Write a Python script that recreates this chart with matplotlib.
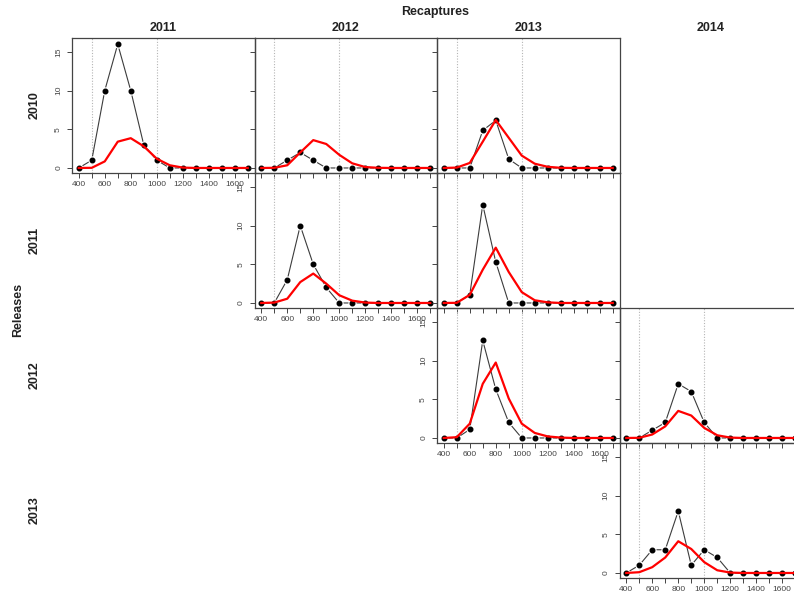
import matplotlib
matplotlib.use('Agg')
import matplotlib.pyplot as plt

plt.rcParams['font.family'] = ['Liberation Sans', 'DejaVu Sans']

release_years = [2010, 2011, 2012, 2013]
recapture_years = [2011, 2012, 2013, 2014]
lengths = [400, 500, 600, 700, 800, 900, 1000, 1100, 1200, 1300, 1400, 1500, 1600, 1700]
x_labels = ['400', '', '600', '', '800', '', '1000', '', '1200', '', '1400', '', '1600', '']
y_ticks = [0, 5, 10, 15]
ref_lines = [500, 1000]

obs_2010_2011 = [0, 1, 10, 16, 10, 3, 1, 0, 0, 0, 0, 0, 0, 0]
pred_2010_2011 = [0, 0.02, 0.85, 3.4, 3.85, 2.8, 1.2, 0.35, 0.05, 0, 0, 0, 0, 0]
obs_2010_2012 = [0, 0, 1, 2, 1, 0, 0, 0, 0, 0, 0, 0, 0, 0]
pred_2010_2012 = [0, 0.02, 0.35, 2.0, 3.6, 3.1, 1.7, 0.6, 0.12, 0.02, 0, 0, 0, 0]
obs_2010_2013 = [0, 0, 0, 4.85, 6.15, 1.15, 0, 0, 0, 0, 0, 0, 0, 0]
pred_2010_2013 = [0, 0.05, 0.65, 3.4, 6.2, 3.9, 1.6, 0.55, 0.15, 0.02, 0, 0, 0, 0]
obs_2011_2012 = [0, 0, 3, 10, 5, 2, 0, 0, 0, 0, 0, 0, 0, 0]
pred_2011_2012 = [0, 0.05, 0.55, 2.7, 3.8, 2.5, 1.0, 0.3, 0.05, 0, 0, 0, 0, 0]
obs_2011_2013 = [0, 0, 1.05, 12.7, 5.3, 0, 0, 0, 0, 0, 0, 0, 0, 0]
pred_2011_2013 = [0, 0.02, 1.05, 4.3, 7.15, 4.0, 1.4, 0.35, 0.08, 0, 0, 0, 0, 0]
obs_2012_2013 = [0, 0, 1.1, 12.6, 6.3, 2.0, 0, 0, 0, 0, 0, 0, 0, 0]
pred_2012_2013 = [0, 0.1, 1.85, 7.0, 9.75, 5.1, 1.85, 0.65, 0.2, 0.05, 0, 0, 0, 0]
obs_2012_2014 = [0, 0, 1, 2, 7, 6, 2, 0, 0, 0, 0, 0, 0, 0]
pred_2012_2014 = [0, 0.02, 0.45, 1.5, 3.5, 2.9, 1.3, 0.35, 0.05, 0, 0, 0, 0, 0]
obs_2013_2014 = [0, 1, 3, 3, 8, 1, 3, 2, 0, 0, 0, 0, 0, 0]
pred_2013_2014 = [0, 0.1, 0.75, 2.0, 4.1, 3.1, 1.4, 0.35, 0.05, 0, 0, 0, 0, 0]

panels = {
    (2010, 2011): (obs_2010_2011, pred_2010_2011),
    (2010, 2012): (obs_2010_2012, pred_2010_2012),
    (2010, 2013): (obs_2010_2013, pred_2010_2013),
    (2011, 2012): (obs_2011_2012, pred_2011_2012),
    (2011, 2013): (obs_2011_2013, pred_2011_2013),
    (2012, 2013): (obs_2012_2013, pred_2012_2013),
    (2012, 2014): (obs_2012_2014, pred_2012_2014),
    (2013, 2014): (obs_2013_2014, pred_2013_2014),
}

W, H = 794, 601
fig = plt.figure(figsize=(W / 100, H / 100), dpi=100)
col_left = [72, 254.5, 437, 619.5]
row_top = [38, 173, 308, 443]
pw, ph = 182.5, 135
axc = '#444444'

for (rel, rec), (obs, pred) in panels.items():
    i = release_years.index(rel)
    j = recapture_years.index(rec)
    ax = fig.add_axes([col_left[j] / W, 1 - (row_top[i] + ph) / H, pw / W, ph / H])
    ax.patch.set_visible(False)
    ax.set_xlim(348, 1752)
    ax.set_ylim(-0.65, 16.8)
    for v in ref_lines:
        ax.axvline(v, color='#b5b5b5', lw=0.8, ls=(0, (1, 1.5)), zorder=1)
    ax.plot(lengths, obs, color='#3c3c3c', lw=0.8, zorder=2)
    ax.plot(lengths, obs, 'o', ms=6.0, mfc='white', mec='none', zorder=3)
    ax.plot(lengths, obs, 'o', ms=3.3, color='black', zorder=4)
    ax.plot(lengths, pred, color='#ff0000', lw=1.6, zorder=5)
    ax.set_xticks(lengths)
    ax.set_yticks(y_ticks)
    diag = (i == j)
    if diag:
        ax.set_xticklabels(x_labels)
        ax.set_yticklabels([str(v) for v in y_ticks], rotation=90, va='center')
    else:
        ax.set_xticklabels([])
        ax.set_yticklabels([])
    ax.tick_params(direction='out', length=3.6, width=0.7, color=axc,
                   labelsize=6, labelcolor=axc, pad=2.5)
    ax.tick_params(axis='y', pad=3.5)
    for s in ax.spines.values():
        s.set_color(axc)
        s.set_linewidth(0.9)

for j, rec in enumerate(recapture_years):
    fig.text((col_left[j] + pw / 2) / W, 1 - 28 / H, str(rec), ha='center', va='center',
             fontsize=9, fontweight='bold', color='#222222')
for i, rel in enumerate(release_years):
    fig.text(35 / W, 1 - (row_top[i] + ph / 2) / H, str(rel), ha='center', va='center',
             rotation=90, fontsize=9, fontweight='bold', color='#222222')
fig.text(435 / W, 1 - 12 / H, 'Recaptures', ha='center', va='center',
         fontsize=9, fontweight='bold', color='#222222')
fig.text(18 / W, 1 - 310 / H, 'Releases', ha='center', va='center', rotation=90,
         fontsize=9, fontweight='bold', color='#222222')

fig.savefig('out.png', dpi=100)
